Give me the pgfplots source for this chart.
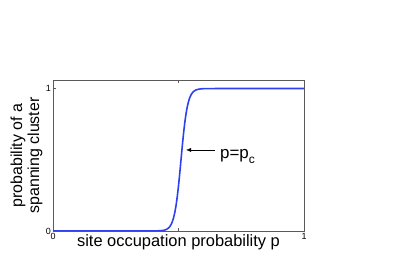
\documentclass[border=0pt]{standalone}
\usepackage{fontspec}
\setmainfont{Liberation Sans}
\usepackage{pgfplots}
\pgfplotsset{compat=1.18}
\usetikzlibrary{arrows.meta}
\definecolor{curveblue}{RGB}{45,65,240}
\definecolor{boxgray}{RGB}{90,90,90}
\begin{document}
\begin{tikzpicture}
\path[use as bounding box] (-53bp,-34bp) rectangle (358bp,231bp);
\begin{axis}[
 at={(0,0)}, anchor=south west,
 scale only axis, width=251bp, height=151bp,
 xmin=0, xmax=1, ymin=0, ymax=1.06,
 xtick={0,0.5,1}, xticklabels={0,,1},
 ytick={0,1},
 tick align=inside,
 major tick length=3bp,
 axis line style={boxgray, line width=0.5pt},
 tick style={boxgray, line width=0.4pt},
 /pgf/number format/assume math mode=true,
 tick label style={font=\fontsize{9}{9}\selectfont, inner sep=2pt},
 xlabel={site occupation probability p},
 xlabel style={at={(axis description cs:0.5,0)}, anchor=base, yshift=-15bp, font=\fontsize{16.5}{18}\selectfont},
 ylabel={probability of a\\spanning cluster},
 ylabel style={at={(axis description cs:-0.1056,0.5)}, anchor=center, align=center, font=\fontsize{16}{17}\selectfont},
]
\addplot[curveblue, line width=1.6bp] coordinates {
(0,0) (0.40,0.0002) (0.43,0.0021) (0.44,0.00456) (0.445,0.00669) (0.45,0.0098)
(0.455,0.01433) (0.46,0.02092) (0.465,0.03042) (0.47,0.04407) (0.475,0.06345)
(0.48,0.0905) (0.485,0.1275) (0.49,0.1768) (0.495,0.2398) (0.50,0.3167)
(0.505,0.4050) (0.51,0.5) (0.515,0.5950) (0.52,0.6833) (0.525,0.7602)
(0.53,0.8232) (0.535,0.8725) (0.54,0.9095) (0.545,0.9366) (0.55,0.9559)
(0.555,0.9696) (0.56,0.9791) (0.565,0.9857) (0.57,0.9902) (0.58,0.9954)
(0.59,0.9979) (0.60,0.9990) (0.62,0.9998) (0.65,1) (1,1)
};
\draw[-{Latex[length=5bp,width=4bp]}, black, line width=0.5pt] (axis cs:0.645,0.569) -- (axis cs:0.53,0.569);
\node[anchor=base west, inner sep=0pt, font=\fontsize{17}{18}\selectfont] at (axis cs:0.665,0.512) {p=p\raisebox{-0.35em}{\fontsize{12}{12}\selectfont c}};
\end{axis}
\end{tikzpicture}
\end{document}
